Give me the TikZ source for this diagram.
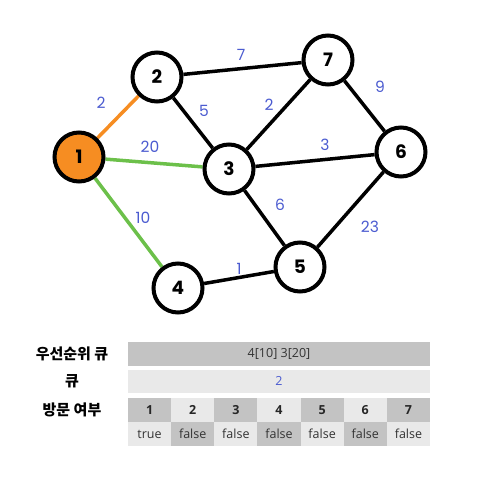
\documentclass[tikz,border=0pt]{standalone}
\usepackage{fontspec}
\setmainfont{Poppins}
\newfontfamily\kr{Noto Sans CJK KR}
\newfontfamily\cellfont{Open Sans}
\usetikzlibrary{backgrounds}
\definecolor{lblblue}{HTML}{4B5BD0}
\definecolor{visorange}{HTML}{F68D22}
\definecolor{qgreen}{HTML}{6CC04A}
\definecolor{celldark}{HTML}{C3C3C3}
\definecolor{celllight}{HTML}{E9E9E9}
\begin{document}
\begin{tikzpicture}[x=1pt,y=-1pt,
    vertex/.style={circle,draw=black,line width=4pt,fill=white,minimum size=49pt,inner sep=0pt,font=\fontsize{18.5}{18.5}\selectfont\bfseries},
    edge/.style={line width=3.5pt},
    lbl/.style={text=lblblue,font=\fontsize{15.5}{15.5}\selectfont},
    rowname/.style={font=\kr\fontsize{15}{15}\selectfont\bfseries},
    cell/.style={font=\cellfont\fontsize{12.5}{12.5}\selectfont,text=black!80}]
  \useasboundingbox (0,0) rectangle (480,480);
  % graph
  \node[vertex,fill=visorange] (n1) at (79,157) {1};
  \node[vertex] (n2) at (157,77) {2};
  \node[vertex] (n3) at (229,169) {3};
  \node[vertex] (n4) at (178,288) {4};
  \node[vertex] (n5) at (300,267) {5};
  \node[vertex] (n6) at (401,152) {6};
  \node[vertex] (n7) at (328,60) {7};
  \begin{scope}[on background layer]
    \draw[edge,visorange] (n1) -- (n2);
    \draw[edge,qgreen] (n1) -- (n3);
    \draw[edge,qgreen] (n1) -- (n4);
    \draw[edge] (n2) -- (n7);
    \draw[edge] (n2) -- (n3);
    \draw[edge] (n3) -- (n7);
    \draw[edge] (n3) -- (n6);
    \draw[edge] (n3) -- (n5);
    \draw[edge] (n7) -- (n6);
    \draw[edge] (n4) -- (n5);
    \draw[edge] (n5) -- (n6);
  \end{scope}
  \node[lbl] (w12) at (101,103) {2};
  \node[lbl] (w27) at (241,55) {7};
  \node[lbl] (w23) at (204,111) {5};
  \node[lbl] (w37) at (269,105) {2};
  \node[lbl] (w13) at (150,147) {20};
  \node[lbl] (w36) at (325,145) {3};
  \node[lbl] (w76) at (380,87) {9};
  \node[lbl] (w14) at (143,218) {10};
  \node[lbl] (w35) at (280,205) {6};
  \node[lbl] (w56) at (370,227) {23};
  \node[lbl] (w45) at (239,269) {1};
  % table
  \node[rowname] (pq) at (72,354) {우선순위 큐};
  \node[rowname] (q) at (72,381) {큐};
  \node[rowname] (vis) at (72,410) {방문 여부};
  \fill[celldark] (128,342) rectangle (430,366);
  \fill[celllight] (128,370) rectangle (430,393);
  \node[cell] (pqval) at (279,354) {4[10] 3[20]};
  \node[cell,text=lblblue] (qval) at (279,381) {2};
  \foreach \i/\v in {1/true,2/false,3/false,4/false,5/false,6/false,7/false}{
    \pgfmathsetmacro\xa{128+(\i-1)*302/7}
    \pgfmathsetmacro\xb{128+\i*302/7}
    \pgfmathsetmacro\xm{(\xa+\xb)/2}
    \ifodd\i
      \fill[celldark] (\xa,398) rectangle (\xb,422);
      \fill[celllight] (\xa,422) rectangle (\xb,446);
    \else
      \fill[celllight] (\xa,398) rectangle (\xb,422);
      \fill[celldark] (\xa,422) rectangle (\xb,446);
    \fi
    \node[cell,font=\cellfont\fontsize{12.5}{12.5}\selectfont\bfseries,text=black!85] (h\i) at (\xm,410) {\i};
    \node[cell] (v\i) at (\xm,434) {\v};
  }
\end{tikzpicture}
\end{document}
